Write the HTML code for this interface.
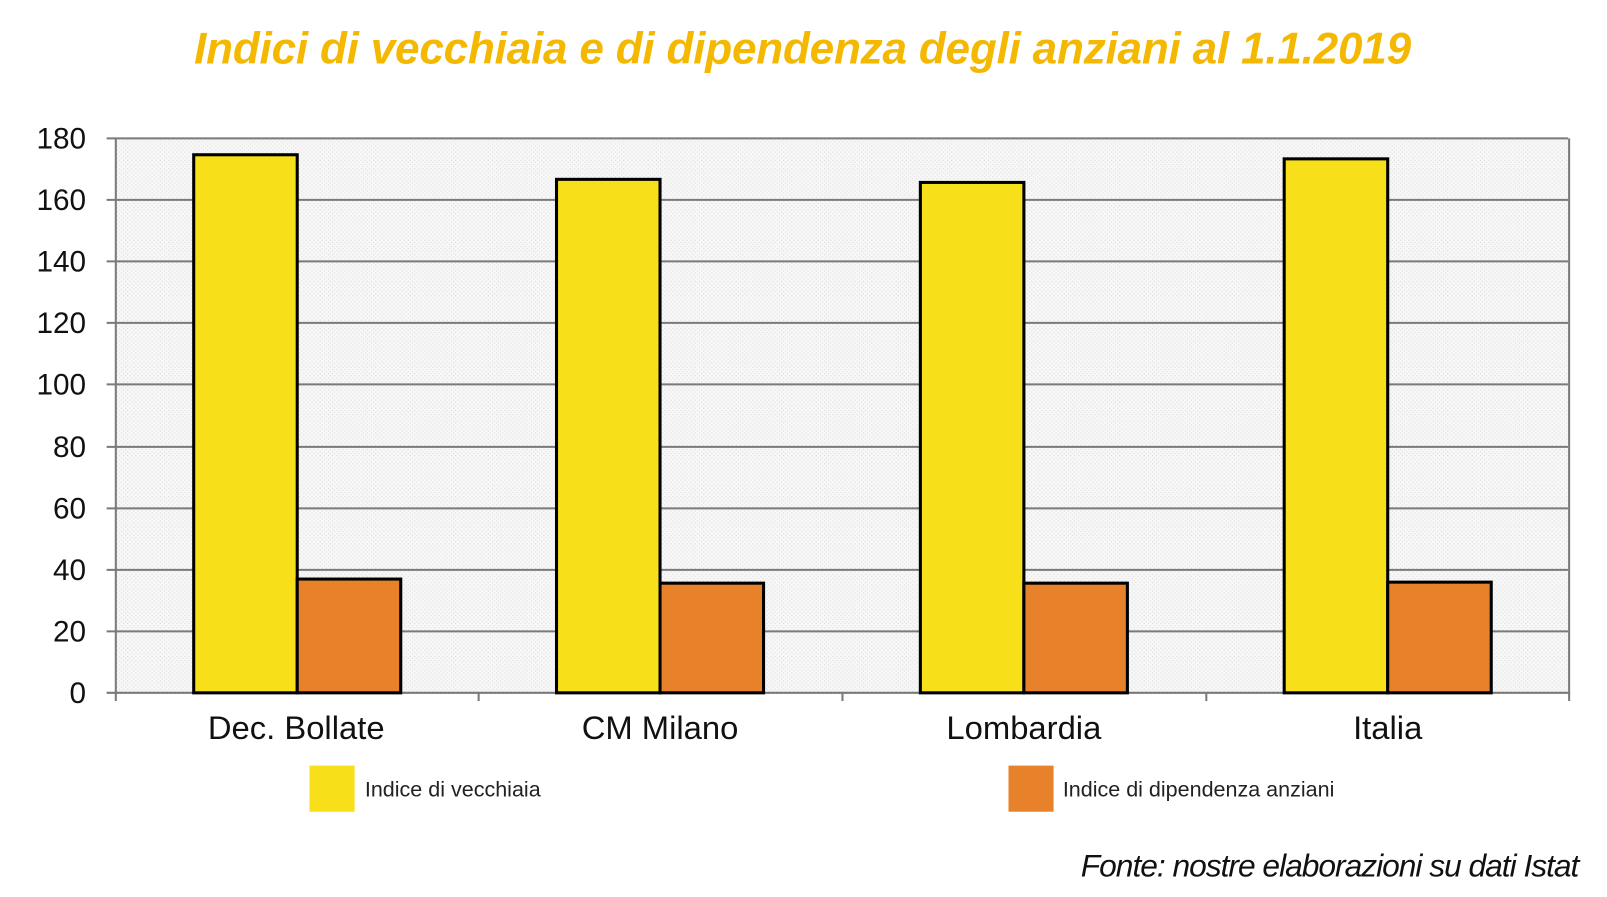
<!DOCTYPE html>
<html><head><meta charset="utf-8"><style>
body{margin:0;background:#fff;width:1607px;height:892px;overflow:hidden;font-family:"Liberation Sans",sans-serif}
</style></head><body>
<svg width="1607" height="892" xmlns="http://www.w3.org/2000/svg">
<defs><pattern id="d" width="4" height="4" patternUnits="userSpaceOnUse"><rect width="4" height="4" fill="#f7f7f7"/><rect width="1" height="1" fill="#dcdcdc"/><rect x="2" y="2" width="1" height="1" fill="#dcdcdc"/></pattern></defs>
<g transform="scale(1.0249)">
<text x="783" y="62" text-anchor="middle" font-family="Liberation Sans, sans-serif" font-style="italic" font-weight="bold" font-size="43" fill="#f5b800" letter-spacing="-0.2">Indici di vecchiaia e di dipendenza degli anziani al 1.1.2019</text>
<rect x="113" y="135" width="1417" height="541" fill="url(#d)"/>
<g stroke="#7a7a7a" stroke-width="2">
<line x1="104" y1="135" x2="1530" y2="135"/>
<line x1="104" y1="195" x2="1530" y2="195"/>
<line x1="104" y1="255" x2="1530" y2="255"/>
<line x1="104" y1="315" x2="1530" y2="315"/>
<line x1="104" y1="375" x2="1530" y2="375"/>
<line x1="104" y1="436" x2="1530" y2="436"/>
<line x1="104" y1="496" x2="1530" y2="496"/>
<line x1="104" y1="556" x2="1530" y2="556"/>
<line x1="104" y1="616" x2="1530" y2="616"/>
<line x1="104" y1="676" x2="1532" y2="676"/>
<line x1="113" y1="135" x2="113" y2="684"/>
<line x1="1531" y1="135" x2="1531" y2="684"/>
<line x1="467" y1="676" x2="467" y2="684"/>
<line x1="822" y1="676" x2="822" y2="684"/>
<line x1="1177" y1="676" x2="1177" y2="684"/>
</g>
<g font-size="29" fill="#111" text-anchor="end">
<text x="84" y="145">180</text><text x="84" y="205">160</text><text x="84" y="265">140</text><text x="84" y="325">120</text><text x="84" y="385">100</text><text x="84" y="446">80</text><text x="84" y="506">60</text><text x="84" y="566">40</text><text x="84" y="626">20</text><text x="84" y="686">0</text>
</g>
<g stroke="#000" stroke-width="3">
<rect x="189" y="151" width="101" height="525" fill="#f7e01a"/>
<rect x="290" y="565" width="101" height="111" fill="#e8822a"/>
<rect x="543" y="175" width="101" height="501" fill="#f7e01a"/>
<rect x="644" y="569" width="101" height="107" fill="#e8822a"/>
<rect x="898" y="178" width="101" height="498" fill="#f7e01a"/>
<rect x="999" y="569" width="101" height="107" fill="#e8822a"/>
<rect x="1253" y="155" width="101" height="521" fill="#f7e01a"/>
<rect x="1354" y="568" width="101" height="108" fill="#e8822a"/>
</g>
<g font-size="32" fill="#111" text-anchor="middle">
<text x="289" y="721">Dec. Bollate</text><text x="644" y="721">CM Milano</text><text x="999" y="721">Lombardia</text><text x="1354" y="721">Italia</text>
</g>
<rect x="302" y="747" width="44" height="45" fill="#f7e01a"/>
<text x="356" y="777" font-size="21" fill="#222">Indice di vecchiaia</text>
<rect x="984" y="747" width="44" height="45" fill="#e8822a"/>
<text x="1037" y="777" font-size="21" fill="#222">Indice di dipendenza anziani</text>
<text x="1540" y="855" text-anchor="end" font-style="italic" font-size="31" fill="#111" letter-spacing="-1">Fonte: nostre elaborazioni su dati Istat</text>
</g>
</svg>
</body></html>
